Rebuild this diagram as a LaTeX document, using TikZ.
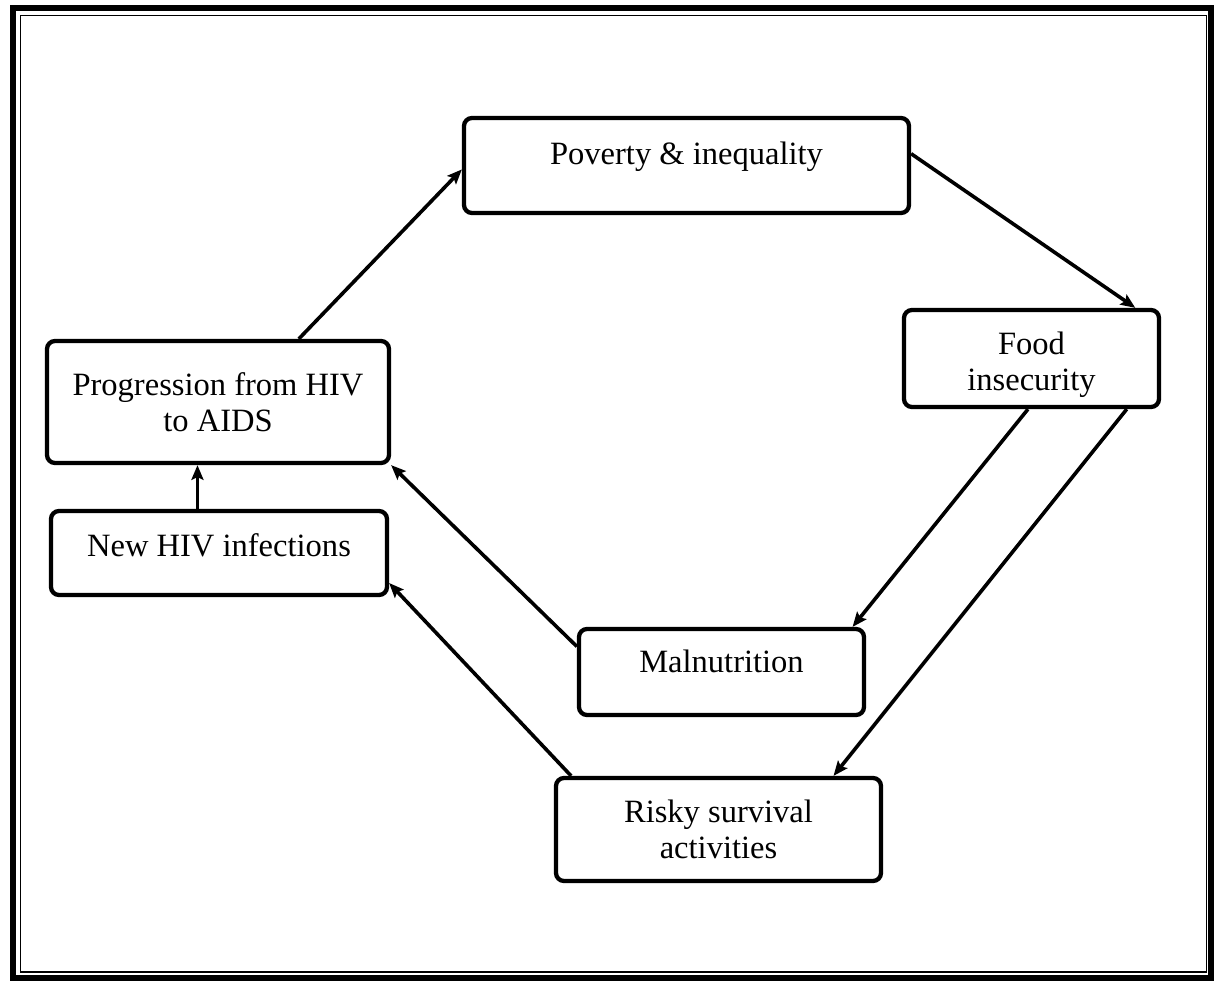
\documentclass[tikz,border=0pt]{standalone}
\usepackage{fontspec}
\setmainfont{Liberation Serif}
\usepackage{tikz}
\usetikzlibrary{arrows.meta, positioning}

\begin{document}
\begin{tikzpicture}[
  x=0.75pt, y=-0.75pt,
  box/.style={rectangle, draw, rounded corners=6pt, line width=3.2pt,
    align=center, font=\fontsize{24.4}{27}\selectfont},
  lift/.style={text depth=#1},
  arrow/.style={-{Stealth[length=11pt,width=9pt,inset=2pt]}, line width=2.7pt}
]
  \useasboundingbox (0,0) rectangle (1214,981);
  % double frame
  \draw[line width=4.5pt] (13,8) rectangle (1211,978);
  \draw[line width=1.2pt] (20.5,15.5) rectangle (1206.5,972);

  \node[box, lift=18.5pt, minimum width=333.75pt, minimum height=71.25pt] (pov) at (686.5,165.5) {Poverty \& inequality};
  \node[box, minimum width=191.25pt, minimum height=72.75pt] (food) at (1031.5,358.5) {\rule{0pt}{27pt}Food\\insecurity};
  \node[box, minimum width=256.5pt, minimum height=91.5pt] (prog) at (218,402) {Progression from HIV\\to AIDS};
  \node[box, lift=12.5pt, minimum width=252pt, minimum height=63pt] (new) at (219,553) {New HIV infections};
  \node[box, lift=15.5pt, minimum width=213.75pt, minimum height=64.5pt] (mal) at (721.5,672) {Malnutrition};
  \node[box, minimum width=243.75pt, minimum height=77.25pt] (risky) at (718.5,829.5) {Risky survival\\activities};

  \draw[arrow] (prog.38) -- (pov.181);
  \draw[arrow] (pov.3) -- (food.26);
  \draw[arrow] (food.266) -- (mal.19);
  \draw[arrow] (food.332) -- (risky.25);
  \draw[arrow] (mal.170) -- (prog.south east);
  \draw[arrow] (risky.160) -- (new.350);
  \draw[arrow] (new.116) -- (new.116 |- prog.south);
\end{tikzpicture}
\end{document}
